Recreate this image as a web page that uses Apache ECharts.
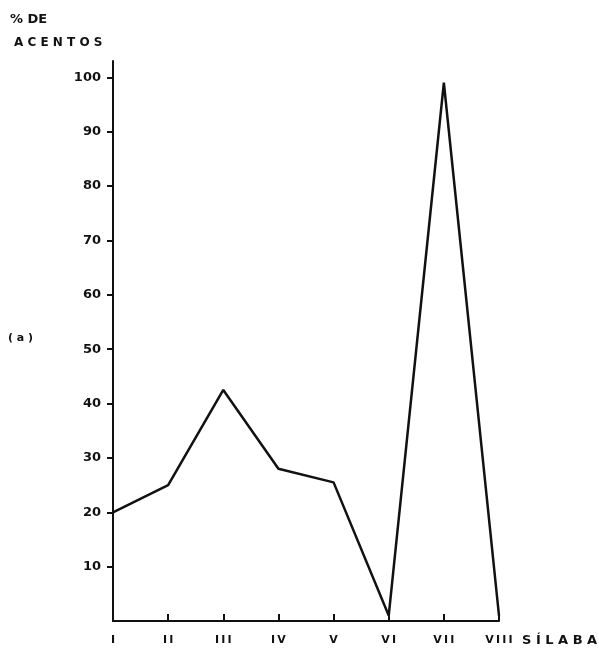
<!DOCTYPE html>
<html>
<head>
<meta charset="utf-8">
<script src="https://cdn.jsdelivr.net/npm/echarts@6/dist/echarts.min.js"></script>
<style>
  html, body { margin: 0; padding: 0; background: #fff; }
  #chart { width: 599px; height: 648px; }
</style>
</head>
<body>
<div id="chart"></div>
<script>
// Syllable positions (roman numerals) and the share of stresses on each
const silabas = ['I', 'II', 'III', 'IV', 'V', 'VI', 'VII', 'VIII'];
const acentos = [20, 25, 42.5, 28, 25.5, 1, 99, 1];
const yTicks = [10, 20, 30, 40, 50, 60, 70, 80, 90, 100];

const FONT = '"DejaVu Sans", sans-serif';
const INK = '#111';

const chart = echarts.init(document.getElementById('chart'), null, { renderer: 'canvas' });

chart.setOption({
  animation: false,
  backgroundColor: '#ffffff',
  grid: { left: 113, right: 100, top: 61, bottom: 27, containLabel: false },
  xAxis: {
    type: 'category',
    data: silabas,
    boundaryGap: false,
    axisLine: { show: true, lineStyle: { color: INK, width: 2 } },
    axisTick: { show: true, inside: true, length: 7, alignWithLabel: true, lineStyle: { color: INK, width: 2 } },
    axisLabel: {
      color: INK, fontFamily: FONT, fontWeight: 'bold', fontSize: 11,
      margin: 14, interval: 0,
      // loosely spaced numerals, letter by letter
      formatter: v => v.split('').join('\u2009')
    },
    splitLine: { show: false }
  },
  yAxis: {
    type: 'value',
    min: 0,
    max: 103,
    axisLine: { show: true, lineStyle: { color: INK, width: 2 } },
    axisTick: { show: true, length: 6, customValues: yTicks, lineStyle: { color: INK, width: 2 } },
    axisLabel: {
      customValues: yTicks,
      color: INK, fontFamily: FONT, fontWeight: 'bold', fontSize: 13, margin: 12
    },
    splitLine: { show: false }
  },
  series: [{
    type: 'line',
    data: acentos,
    symbol: 'none',
    lineStyle: { color: INK, width: 2.5 },
    z: 3
  }],
  graphic: [
    { type: 'text', left: 10, top: 13, style: { text: '% DE', fill: INK, font: 'bold 13px ' + FONT } },
    { type: 'text', left: 14, top: 37, style: { text: 'A C E N T O S', fill: INK, font: 'bold 12px ' + FONT } },
    { type: 'text', left: 8, top: 333, style: { text: '( a )', fill: INK, font: 'bold 11px ' + FONT } },
    { type: 'text', left: 522, top: 634, style: { text: 'S Í L A B A S', fill: INK, font: 'bold 13px ' + FONT } }
  ]
});
</script>
</body>
</html>
